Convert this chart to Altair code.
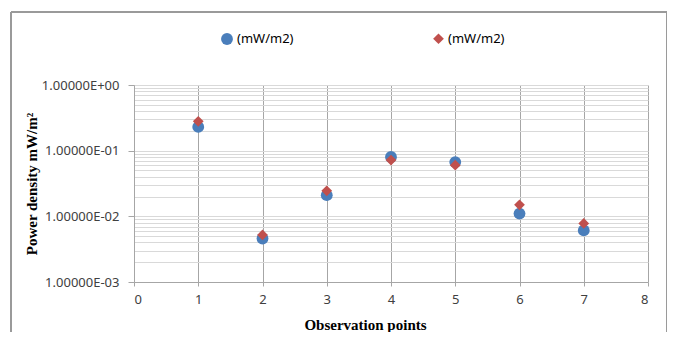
import altair as alt
import pandas as pd

points = [1, 2, 3, 4, 5, 6, 7]
series_a = [0.23, 0.0046, 0.021, 0.080, 0.067, 0.011, 0.0061]
series_b = [0.28, 0.0052, 0.0245, 0.072, 0.060, 0.015, 0.0078]
series_names = ["A", "B"]
legend_labels = ["(mW/m2)", "(mW/m2)"]
x_ticks = [0, 1, 2, 3, 4, 5, 6, 7, 8]
y_ticks = [m * 10.0 ** k for k in (-3, -2, -1) for m in range(1, 10)] + [1.0]

df = pd.DataFrame({
    "x": points * 2,
    "y": series_a + series_b,
    "s": [series_names[0]] * len(points) + [series_names[1]] * len(points),
})

dec_test = "abs(log(datum.value)/LN10 - round(log(datum.value)/LN10)) < 1e-6"
label_expr = (
    f"({dec_test}) ? (round(log(datum.value)/LN10) == 0 ? '1.00000E+00' : "
    "'1.00000E-0' + (-round(log(datum.value)/LN10))) : ''"
)

xscale = alt.Scale(domain=[0, 8], nice=False)
yscale = alt.Scale(type="log", domain=[0.001, 1], nice=False)

base = alt.Chart(df)

points_layer = base.mark_point(filled=True, opacity=1).encode(
    x=alt.X("x:Q", scale=xscale,
            axis=alt.Axis(values=x_ticks, title="Observation  points",
                          grid=True, gridColor="#a6a6a6", gridWidth=1,
                          domainColor="#a6a6a6", tickColor="#a6a6a6", tickSize=4,
                          labelFont="Noto Sans", labelFontSize=13, labelColor="#404040",
                          labelPadding=7,
                          titleFont="Liberation Serif", titleFontSize=15,
                          titleFontWeight="bold", titleColor="#000000", titlePadding=11,
                          titleX=231, titleAlign="center", titleAnchor="start")),
    y=alt.Y("y:Q", scale=yscale,
            axis=alt.Axis(values=y_ticks, labelExpr=label_expr,
                          title="Power density  mW/m²",
                          grid=True, gridColor="#d9d9d9", gridWidth=1,
                          domainColor="#a6a6a6", tickColor="#a6a6a6", tickSize=6,
                          tickOpacity={"condition": {"test": dec_test, "value": 1}, "value": 0},
                          labelFont="Noto Sans", labelFontSize=13, labelColor="#404040",
                          labelPadding=9,
                          titleFont="Liberation Serif", titleFontSize=15,
                          titleFontWeight="bold", titleColor="#000000", titlePadding=2)),
    color=alt.Color("s:N", scale=alt.Scale(domain=series_names, range=["#4a7ebb", "#c0504d"]),
                    legend=alt.Legend(orient="none", legendX=86, legendY=-53,
                                      direction="horizontal", title=None,
                                      labelExpr="datum.label == 'A' ? '(mW/m2)' : '(mW/m2)'",
                                      labelFont="Noto Sans", labelFontSize=13,
                                      labelColor="#000000", columnPadding=138,
                                      symbolSize=100, symbolOffset=0, labelOffset=3)),
    shape=alt.Shape("s:N", scale=alt.Scale(domain=series_names, range=["circle", "diamond"]),
                    legend=None),
    size=alt.Size("s:N", scale=alt.Scale(domain=series_names, range=[140, 115]), legend=None),
)

frame_df = pd.DataFrame({"k": [0]})
frame_color = "#9a9a9a"
left = alt.Chart(frame_df).mark_rule(color=frame_color, strokeWidth=2).encode(
    x=alt.value(-123), y=alt.value(-73), y2=alt.value(260))
top = alt.Chart(frame_df).mark_rule(color=frame_color, strokeWidth=2).encode(
    x=alt.value(-123), x2=alt.value(533), y=alt.value(-73))
right = alt.Chart(frame_df).mark_rule(color=frame_color, strokeWidth=2).encode(
    x=alt.value(533), y=alt.value(-73), y2=alt.value(260))

chart = alt.layer(points_layer, left, top, right).properties(
    width=514, height=197,
    autosize=alt.AutoSizeParams(type="none"),
    padding={"left": 126, "top": 77, "right": 19, "bottom": 50},
).configure_view(stroke=None)

chart.save("out.html", embed_options={"renderer": "svg", "actions": False})
